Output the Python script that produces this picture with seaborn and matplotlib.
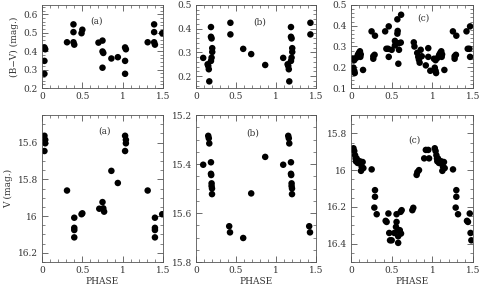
import numpy as np
import pandas as pd
import matplotlib
matplotlib.use("Agg")
import matplotlib.pyplot as plt
import seaborn as sns
from matplotlib.ticker import MultipleLocator, FuncFormatter

# star (a): phase, B-V and V (phase 0..1, points with phase<0.5 are repeated at phase+1)
a_bv_phase = [0.03, 0.04, 0.03, 0.03, 0.31, 0.39, 0.39, 0.39, 0.40, 0.50, 0.49,
              0.70, 0.75, 0.75, 0.76, 0.75, 0.86, 0.94]
a_bv = [0.42, 0.41, 0.347, 0.277, 0.448, 0.545, 0.503, 0.448, 0.435, 0.516, 0.497,
        0.446, 0.457, 0.398, 0.39, 0.31, 0.36, 0.367]
a_v_phase = [0.03, 0.04, 0.04, 0.03, 0.31, 0.40, 0.40, 0.40, 0.40, 0.49, 0.50,
             0.71, 0.75, 0.76, 0.77, 0.86, 0.94]
a_v = [15.563, 15.585, 15.604, 15.646, 15.861, 16.009, 16.064, 16.076, 16.116, 15.99, 15.985,
       15.96, 15.924, 15.958, 15.976, 15.754, 15.82]

# star (b)
b_bv_phase = [0.09, 0.145, 0.153, 0.16, 0.166, 0.187, 0.187, 0.195, 0.203, 0.203, 0.195,
              0.187, 0.43, 0.43, 0.59, 0.69, 0.865]
b_bv = [0.277, 0.25, 0.243, 0.229, 0.178, 0.407, 0.366, 0.359, 0.318, 0.302, 0.278,
        0.264, 0.425, 0.376, 0.315, 0.293, 0.247]
b_v_phase = [0.09, 0.153, 0.16, 0.166, 0.187, 0.187, 0.19, 0.195, 0.195, 0.20, 0.20,
             0.415, 0.425, 0.59, 0.69, 0.865]
b_v = [15.403, 15.285, 15.295, 15.316, 15.393, 15.44, 15.445, 15.479, 15.49, 15.50, 15.523,
       15.654, 15.679, 15.702, 15.52, 15.371]

# star (c)
c_bv_phase = [0.02, 0.04, 0.03, 0.04, 0.046, 0.064, 0.084, 0.097, 0.11, 0.12, 0.115, 0.148,
              0.253, 0.295, 0.274, 0.274, 0.29, 0.42, 0.464, 0.435, 0.456, 0.464, 0.50,
              0.54, 0.54, 0.56, 0.57, 0.574, 0.57, 0.59, 0.59, 0.582, 0.616, 0.612,
              0.772, 0.78, 0.814, 0.827, 0.835, 0.844, 0.857, 0.87, 0.92, 0.95, 0.95, 0.975]
c_bv = [0.241, 0.234, 0.198, 0.183, 0.172, 0.245, 0.26, 0.269, 0.277, 0.262, 0.25, 0.187,
        0.373, 0.352, 0.253, 0.241, 0.26, 0.373, 0.397, 0.289, 0.289, 0.25, 0.284,
        0.327, 0.305, 0.316, 0.362, 0.375, 0.431, 0.316, 0.284, 0.217, 0.453, 0.319,
        0.32, 0.30, 0.269, 0.25, 0.237, 0.222, 0.284, 0.253, 0.209, 0.292, 0.25, 0.183]
c_v_phase = [0.03, 0.04, 0.05, 0.057, 0.061, 0.07, 0.082, 0.11, 0.143, 0.13, 0.152, 0.123,
             0.254, 0.295, 0.295, 0.287, 0.316, 0.426, 0.438, 0.46, 0.47, 0.48, 0.50,
             0.533, 0.553, 0.56, 0.56, 0.58, 0.58, 0.58, 0.60, 0.61, 0.623, 0.615,
             0.754, 0.766, 0.807, 0.816, 0.836, 0.90, 0.92, 0.95, 0.96]
c_v = [15.881, 15.896, 15.919, 15.937, 15.952, 15.937, 15.961, 15.952, 15.956, 15.98, 15.989, 16.004,
       15.996, 16.109, 16.145, 16.204, 16.24, 16.276, 16.282, 16.236, 16.342, 16.382, 16.382,
       16.342, 16.309, 16.282, 16.24, 16.327, 16.36, 16.396, 16.327, 16.227, 16.218, 16.345,
       16.218, 16.205, 16.026, 16.011, 16.0, 15.936, 15.89, 15.89, 15.936]


def wrap(phase, mag):
    df = pd.DataFrame({"phase": phase, "mag": mag})
    extra = df[df["phase"] < 0.5].copy()
    extra["phase"] += 1
    return pd.concat([df, extra], ignore_index=True)


sns.set_style("ticks")
plt.rcParams["font.family"] = ["DejaVu Serif"]
plt.rcParams["font.size"] = 6.5

fig = plt.figure(figsize=(4.8, 2.86), dpi=100)

# panel positions in pixels (left, width) and (top, bottom)
cols = [(42, 121), (196, 120), (351, 122)]
top = (5, 88)
bot = (115, 262)
W, H = 480, 286

panels = [
    (0, 0, a_bv_phase, a_bv, (0.2, 0.65), 0.1, 0.02, "(a)", (0.45, 0.81)),
    (1, 0, b_bv_phase, b_bv, (0.15, 0.5), 0.1, 0.02, "(b)", (0.53, 0.80)),
    (2, 0, c_bv_phase, c_bv, (0.1, 0.5), 0.1, 0.02, "(c)", (0.59, 0.84)),
    (0, 1, a_v_phase, a_v, (16.25, 15.45), 0.2, 0.05, "(a)", (0.52, 0.89)),
    (1, 1, b_v_phase, b_v, (15.8, 15.2), 0.2, 0.05, "(b)", (0.47, 0.88)),
    (2, 1, c_v_phase, c_v, (16.5, 15.7), 0.2, 0.05, "(c)", (0.52, 0.83)),
]

fmt = FuncFormatter(lambda v, p: "%g" % round(v, 3))

for ci, ri, ph, mg, ylim, ymaj, ymin, lab, lpos in panels:
    x0, w = cols[ci]
    y0, y1 = top if ri == 0 else bot
    ax = fig.add_axes([x0 / W, 1 - y1 / H, w / W, (y1 - y0) / H])
    d = wrap(ph, mg)
    sns.scatterplot(data=d, x="phase", y="mag", ax=ax, color="black",
                    s=22, edgecolor="none", linewidth=0)
    ax.set_xlim(0, 1.5)
    ax.set_ylim(*ylim)
    ax.xaxis.set_major_locator(MultipleLocator(0.5))
    ax.xaxis.set_minor_locator(MultipleLocator(0.1))
    ax.yaxis.set_major_locator(MultipleLocator(ymaj))
    ax.yaxis.set_minor_locator(MultipleLocator(ymin))
    ax.xaxis.set_major_formatter(fmt)
    ax.yaxis.set_major_formatter(fmt)
    ax.tick_params(which="both", direction="in", top=True, right=True,
                   labelsize=6.5, labelcolor="#333333", color="#555555", pad=3)
    ax.tick_params(which="major", length=4, width=0.6)
    ax.tick_params(which="minor", length=2, width=0.5)
    for s in ax.spines.values():
        s.set_linewidth(0.6)
        s.set_color("#555555")
    ax.text(lpos[0], lpos[1], lab, transform=ax.transAxes, ha="center", va="center",
            fontsize=6.5, color="#333333")
    ax.set_ylabel("")
    if ri == 1:
        ax.set_xlabel("PHASE", fontsize=6.5, color="#333333", labelpad=1)
    else:
        ax.set_xlabel("")
    if ci == 0:
        ax.set_ylabel("(B\u2212V) (mag.)" if ri == 0 else "V (mag.)",
                      fontsize=6.5, color="#333333", labelpad=3)

fig.savefig("out.png", dpi=100)
